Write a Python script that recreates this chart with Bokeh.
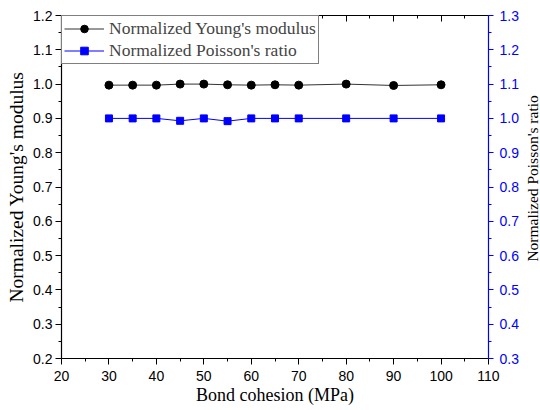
import math
from bokeh.plotting import figure
from bokeh.models import (Range1d, LinearAxis, FixedTicker, NumeralTickFormatter,
                          Legend, LegendItem, Label)
from bokeh.embed import file_html
from bokeh.resources import INLINE

cohesion = [30, 35, 40, 45, 50, 55, 60, 65, 70, 80, 90, 100]
youngs = [0.997, 0.997, 0.997, 1.000, 1.000, 0.998, 0.997, 0.998, 0.997, 1.000, 0.996, 0.998]
poisson = [1.000, 1.000, 1.000, 0.993, 1.000, 0.992, 1.000, 1.000, 1.000, 1.000, 1.000, 1.000]

x_ticks = [20, 30, 40, 50, 60, 70, 80, 90, 100, 110]
x_minor = [25, 35, 45, 55, 65, 75, 85, 95, 105]
left_ticks = [0.2, 0.3, 0.4, 0.5, 0.6, 0.7, 0.8, 0.9, 1.0, 1.1, 1.2]
left_minor = [0.25, 0.35, 0.45, 0.55, 0.65, 0.75, 0.85, 0.95, 1.05, 1.15]
right_ticks = [0.3, 0.4, 0.5, 0.6, 0.7, 0.8, 0.9, 1.0, 1.1, 1.2, 1.3]
right_minor = [0.35, 0.45, 0.55, 0.65, 0.75, 0.85, 0.95, 1.05, 1.15, 1.25]

SERIF = "Liberation Serif"
SANS = "Liberation Sans"
BLUE = "#0000ff"

p = figure(width=540, height=410, output_backend="svg", toolbar_location=None,
           x_range=Range1d(20, 110), y_range=Range1d(0.2, 1.2),
           min_border_left=61, min_border_right=52, min_border_top=15, min_border_bottom=52)
p.extra_y_ranges = {"right": Range1d(0.3, 1.3)}
p.xgrid.visible = False
p.ygrid.visible = False
p.outline_line_color = None
p.background_fill_color = "white"
p.border_fill_color = "white"

def style(ax, color="black"):
    ax.axis_line_color = color
    ax.axis_line_width = 1.2
    ax.major_tick_line_color = color
    ax.minor_tick_line_color = color
    ax.major_label_text_color = color
    ax.major_label_text_font = SANS
    ax.major_label_text_font_size = "14px"
    ax.axis_label_text_font = SERIF
    ax.axis_label_text_font_size = "18px"
    ax.axis_label_text_font_style = "normal"
    ax.axis_label_text_color = "black"
    ax.major_tick_out = 6
    ax.major_tick_in = 0
    ax.minor_tick_out = 3
    ax.minor_tick_in = 0

xa = p.xaxis[0]
xa.ticker = FixedTicker(ticks=x_ticks, minor_ticks=x_minor)
xa.axis_label = "Bond cohesion (MPa)"
style(xa)
xa.major_label_standoff = 6
xa.axis_label_standoff = 1

ya = p.yaxis[0]
ya.ticker = FixedTicker(ticks=left_ticks, minor_ticks=left_minor)
ya.formatter = NumeralTickFormatter(format="0.0")
ya.axis_label = "Normalized Young's modulus"
style(ya)
ya.axis_label_text_font_size = "19.5px"
ya.major_label_standoff = 3
ya.axis_label_standoff = 3

ra = LinearAxis(y_range_name="right", ticker=FixedTicker(ticks=right_ticks, minor_ticks=right_minor),
                formatter=NumeralTickFormatter(format="0.0"))
style(ra, BLUE)
ra.major_tick_out = 5
ra.major_label_standoff = 6
p.add_layout(ra, "right")

ta = LinearAxis(ticker=FixedTicker(ticks=x_ticks, minor_ticks=x_minor))
style(ta)
ta.major_tick_out = 0
ta.major_tick_in = 6
ta.minor_tick_out = 0
ta.minor_tick_in = 3
ta.major_label_text_font_size = "0px"
ta.major_label_text_color = None
ta.major_label_standoff = 0
p.add_layout(ta, "above")

right_label = Label(x=110, y=0.725, x_offset=44, text="Normalized Poisson's ratio",
                    angle=math.pi / 2, text_align="center", text_baseline="middle",
                    text_font=SERIF, text_font_size="15.5px", text_color="black")
p.add_layout(right_label, "right")

l1 = p.line(cohesion, youngs, line_color="#333333", line_width=1)
s1 = p.scatter(cohesion, youngs, marker="circle", size=8, fill_color="black", line_color="black")
l2 = p.line(cohesion, poisson, line_color=BLUE, line_width=1, y_range_name="right")
s2 = p.scatter(cohesion, poisson, marker="square", size=7, fill_color=BLUE, line_color=BLUE,
               y_range_name="right")

legend = Legend(items=[LegendItem(label="Normalized Young's modulus", renderers=[l1, s1]),
                       LegendItem(label="Normalized Poisson's ratio", renderers=[l2, s2])],
                location="top_left", margin=0, padding=2, spacing=1,
                glyph_width=40, glyph_height=19, label_standoff=5, label_height=19,
                label_text_font=SERIF, label_text_font_size="17.5px",
                border_line_color="black", border_line_width=1,
                background_fill_alpha=1)
p.add_layout(legend, "center")

open("out.html", "w").write(file_html(p, INLINE))
